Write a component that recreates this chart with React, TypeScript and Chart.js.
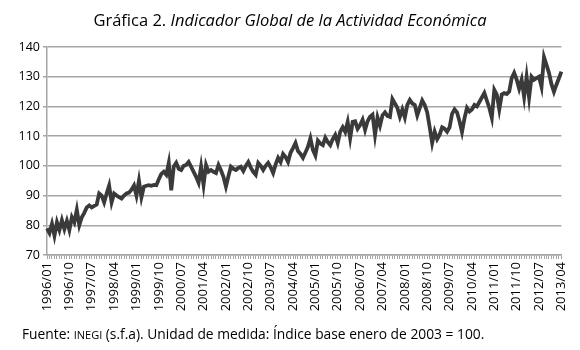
import React, { useEffect, useRef } from 'react';
import { Chart, registerables } from 'chart.js';

Chart.register(...registerables);

const TITLE_PREFIX = 'Gráfica 2. ';
const TITLE_ITALIC = 'Indicador Global de la Actividad Económica';
const SOURCE_A = 'Fuente: ';
const SOURCE_SC = 'INEGI';
const SOURCE_B = ' (s.f.a). Unidad de medida: Índice base enero de 2003 = 100.';

const FIRST_YEAR = 1996;
const LAST_YEAR = 2013;
const LAST_MONTH = 4;

const TICK_LABELS = [
  '1996/01', '1996/10', '1997/07', '1998/04', '1999/01', '1999/10', '2000/07', '2001/04',
  '2002/01', '2002/10', '2003/07', '2004/04', '2005/01', '2005/10', '2006/07', '2007/04',
  '2008/01', '2008/10', '2009/07', '2010/04', '2011/01', '2011/10', '2012/07', '2013/04',
];

const Y_MIN = 70;
const Y_MAX = 140;
const Y_STEP = 10;

const IGAE = [
  79.0, 77.4, 80.5, 76.5, 81.0, 78.4, 81.7, 78.7, 81.5, 78.4, 82.7, 81.0,
  85.2, 80.0, 82.7, 84.2, 86.0, 86.7, 86.0, 86.5, 87.0, 90.7, 90.0, 87.7,
  90.7, 93.4, 87.7, 90.7, 90.0, 89.5, 89.0, 90.0, 90.7, 91.0, 92.0, 93.4,
  90.0, 95.0, 89.4, 93.0, 93.3, 93.5, 93.3, 93.6, 93.5, 95.5, 97.3, 98.0,
  97.0, 101.0, 91.8, 99.7, 101.0, 99.0, 98.6, 100.0, 100.3, 101.3, 99.7, 98.0,
  96.3, 94.3, 99.7, 93.6, 100.3, 98.0, 98.6, 98.0, 97.6, 100.3, 98.5, 96.3,
  93.0, 96.5, 99.7, 99.0, 98.6, 99.3, 99.7, 98.3, 100.0, 101.3, 99.4, 98.0,
  97.0, 101.0, 100.0, 98.6, 100.0, 101.0, 99.5, 97.6, 100.5, 102.7, 101.3, 104.0,
  103.0, 101.3, 104.4, 106.0, 107.7, 105.0, 104.0, 102.7, 104.5, 106.4, 109.3, 105.4,
  103.5, 108.5, 107.5, 107.0, 109.5, 108.0, 107.0, 109.0, 110.4, 107.7, 111.5, 113.0,
  111.4, 114.8, 109.3, 114.8, 115.0, 112.5, 113.7, 115.5, 112.1, 115.0, 116.5, 117.2,
  110.4, 116.3, 113.5, 117.0, 118.0, 116.8, 116.5, 122.5, 121.0, 119.5, 116.5, 119.0,
  116.3, 120.5, 122.2, 121.0, 120.5, 117.0, 119.5, 122.0, 120.5, 118.0, 113.0, 107.7,
  111.5, 109.0, 110.5, 113.0, 112.5, 111.5, 113.0, 117.5, 119.0, 118.0, 115.0, 111.4,
  116.0, 119.5, 118.3, 119.0, 120.5, 120.0, 121.5, 123.0, 124.5, 122.0, 119.5, 116.2,
  125.6, 124.0, 119.0, 124.0, 124.5, 124.2, 125.0, 129.5, 131.3, 129.0, 126.0, 129.0,
  123.2, 130.0, 123.0, 130.0, 129.0, 129.5, 130.0, 126.6, 136.6, 134.0, 131.3, 127.5,
  124.9, 127.3, 129.5, 131.7,
];

const MONTHS: string[] = [];
for (let y = FIRST_YEAR; y <= LAST_YEAR; y++) {
  for (let m = 1; m <= 12; m++) {
    if (y === LAST_YEAR && m > LAST_MONTH) break;
    MONTHS.push(`${y}/${String(m).padStart(2, '0')}`);
  }
}

const FONT = "'Open Sans', 'Noto Sans', 'DejaVu Sans', sans-serif";
const GRID = '#a6a6a6';

export default function App() {
  const ref = useRef<HTMLCanvasElement | null>(null);

  useEffect(() => {
    if (!ref.current) return;
    const chart = new Chart(ref.current, {
      type: 'line',
      data: {
        labels: MONTHS,
        datasets: [
          {
            data: IGAE,
            borderColor: '#3a3a3a',
            borderWidth: 3.8,
            pointRadius: 0,
            tension: 0,
            fill: false,
          },
        ],
      },
      options: {
        responsive: false,
        animation: false,
        layout: { padding: { top: 47, right: 9, left: 0, bottom: 0 } },
        plugins: { legend: { display: false }, tooltip: { enabled: false }, title: { display: false } },
        scales: {
          x: {
            type: 'category',
            offset: false,
            afterFit: (s: any) => { s.height = 95; },
            grid: { display: true, drawOnChartArea: false, drawTicks: true, tickLength: 4, color: GRID, lineWidth: 1 },
            border: { display: true, color: GRID, width: 1.5 },
            ticks: {
              autoSkip: false,
              maxRotation: 90,
              minRotation: 90,
              padding: 3,
              color: '#000',
              font: { family: FONT, size: 13 },
              callback: (_v: any, i: number) => (TICK_LABELS.includes(MONTHS[i]) ? MONTHS[i] : ''),
            },
          },
          y: {
            min: Y_MIN,
            max: Y_MAX,
            afterFit: (s: any) => { s.width = 47; },
            grid: { color: GRID, lineWidth: 1.5, tickLength: 4 },
            border: { display: true, color: GRID, width: 1.5 },
            ticks: {
              stepSize: Y_STEP,
              padding: 3,
              color: '#000',
              font: { family: FONT, size: 12.5 },
            },
          },
        },
      },
    });
    return () => chart.destroy();
  }, []);

  return (
    <div style={{ position: 'absolute', left: 0, top: 0, width: 580, height: 350, background: '#fff', overflow: 'hidden' }}>
      <canvas ref={ref} width={580} height={350} style={{ position: 'absolute', left: 0, top: 0, display: 'block' }} />
      <div style={{ position: 'absolute', left: 0, top: 8, width: 580, textAlign: 'center', fontFamily: FONT, fontSize: 16.5, color: '#000', whiteSpace: 'nowrap' }}>
        {TITLE_PREFIX}<i>{TITLE_ITALIC}</i>
      </div>
      <div style={{ position: 'absolute', left: 22, top: 324, fontFamily: FONT, fontSize: 13.8, color: '#000', whiteSpace: 'nowrap' }}>
        {SOURCE_A}<span style={{ fontSize: 11 }}>{SOURCE_SC}</span>{SOURCE_B}
      </div>
    </div>
  );
}
